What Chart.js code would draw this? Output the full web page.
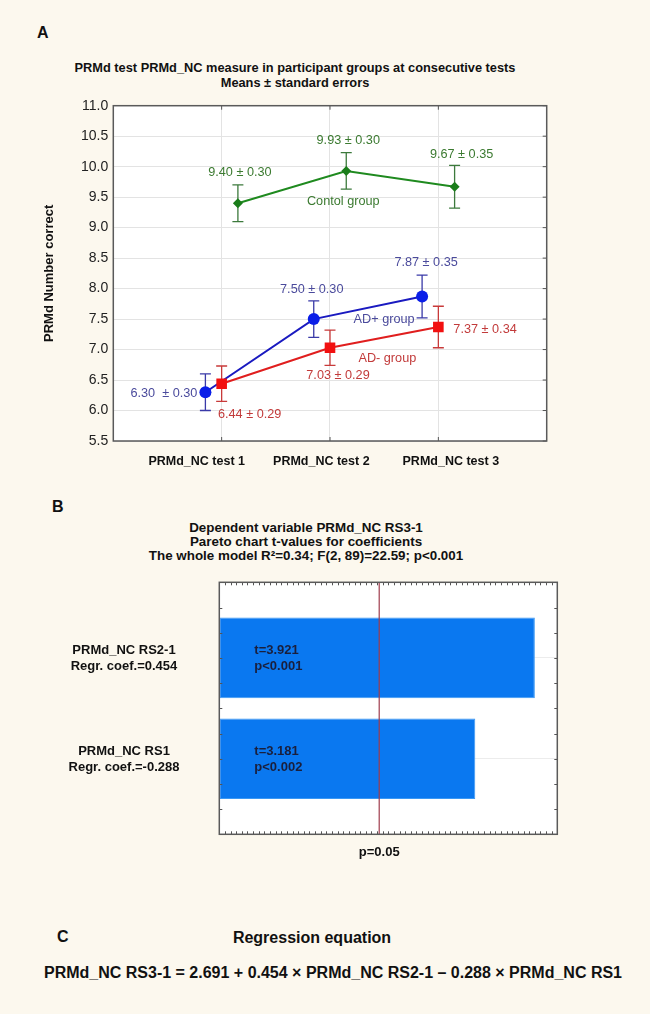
<!DOCTYPE html>
<html>
<head>
<meta charset="utf-8">
<script src="https://cdn.jsdelivr.net/npm/chart.js@4/dist/chart.umd.min.js"></script>
<style>
  html, body { margin: 0; padding: 0; background: #fcf8ee; }
  body { width: 650px; height: 1014px; position: relative; overflow: hidden;
         font-family: "Liberation Sans", Arial, sans-serif; color: #111; }
  .abs { position: absolute; white-space: nowrap; }
  .panel { font-size: 16px; font-weight: bold; line-height: 18px; }
  .title { font-weight: bold; text-align: center; }
  canvas { position: absolute; left: 0; }
</style>
</head>
<body>
  <div class="abs panel" style="left:37px; top:24px;">A</div>
  <div class="abs title" style="left:0; width:590px; top:60px; font-size:12.8px; line-height:15px;">
    PRMd test PRMd_NC measure in participant groups at consecutive tests<br>Means ± standard errors
  </div>
  <canvas id="chartA" width="650" height="480" style="top:0;"></canvas>

  <div class="abs panel" style="left:52px; top:498px;">B</div>
  <div class="abs title" style="left:0; width:612px; top:521px; font-size:13.4px; line-height:14px;">
    Dependent variable PRMd_NC RS3-1<br>Pareto chart t-values for coefficients<br>The whole model R²=0.34; F(2, 89)=22.59; p&lt;0.001
  </div>
  <canvas id="chartB" width="650" height="400" style="top:480px;"></canvas>

  <div class="abs panel" style="left:57px; top:928px;">C</div>
  <div class="abs" style="left:0; width:624px; top:929px; text-align:center; font-size:16px; font-weight:bold; line-height:18px;">Regression equation</div>
  <div class="abs" style="left:0; width:666px; top:964px; text-align:center; font-size:16px; font-weight:bold; line-height:18px;">PRMd_NC RS3-1 = 2.691 + 0.454 × PRMd_NC RS2-1 – 0.288 × PRMd_NC RS1</div>

<script>
// ---- Panel A: group means and standard errors per test ----
const testLabels   = ['PRMd_NC test 1', 'PRMd_NC test 2', 'PRMd_NC test 3'];
const groupNames   = ['Contol group', 'AD+ group', 'AD- group'];
const controlMeans = [9.40, 9.93, 9.67];
const controlSE    = [0.30, 0.30, 0.35];
const adPlusMeans  = [6.30, 7.50, 7.87];
const adPlusSE     = [0.30, 0.30, 0.35];
const adMinusMeans = [6.44, 7.03, 7.37];
const adMinusSE    = [0.29, 0.29, 0.34];
const yTitleA      = 'PRMd Number correct';

// ---- Panel B: Pareto chart of t-values ----
const predictorLabels = [['PRMd_NC RS2-1', 'Regr. coef.=0.454'], ['PRMd_NC RS1', 'Regr. coef.=-0.288']];
const tValues   = [3.921, 3.181];
const pLabels   = ['p<0.001', 'p<0.002'];
const tCritical = 1.987;
const critLabel = 'p=0.05';

Chart.defaults.font.family = '"Liberation Sans", Arial, sans-serif';

// ---------- Panel A ----------
const labelFont = '12.7px "Liberation Sans", Arial, sans-serif';

// offsets: [dx, dy, textAlign, separator] relative to each point
const groupStyles = [
  { shift: 0.15, line: '#1f8a1f', point: '#1a7d1a', err: '#3c7a3c', text: '#3b7a30', style: 'rectRot', radius: 5, order: 2,
    offsets: [[2, -31, 'center'], [2, -30, 'center'], [7, -32, 'center']], nameAt: [1, -3, 31] },
  { shift: -0.15, line: '#1a1ac0', point: '#0a1ee8', err: '#3a3aa8', text: '#4a4a9c', style: 'circle', radius: 6, order: 1,
    offsets: [[-8, 1, 'right', '  ± '], [-2, -30, 'center'], [4, -34, 'center']], nameAt: [2, -38, 23] },
  { shift: 0, line: '#e01e1e', point: '#f21010', err: '#c83a3a', text: '#c23a3a', style: 'rect', radius: 7.5, order: 0,
    offsets: [[28, 31, 'center'], [8, 28, 'center'], [15, 2, 'left']], nameAt: [2, -51, 31] }
];
const groupMeans = [controlMeans, adPlusMeans, adMinusMeans];
const groupSE    = [controlSE, adPlusSE, adMinusSE];

const datasetsA = groupStyles.map((g, gi) => ({
  label: groupNames[gi],
  data: groupMeans[gi].map((m, i) => ({ x: i + 1 + g.shift, y: m })),
  errors: groupSE[gi],
  showLine: true,
  borderColor: g.line,
  borderWidth: 2,
  backgroundColor: g.point,
  pointBackgroundColor: g.point,
  pointBorderColor: g.point,
  pointBorderWidth: 0,
  pointStyle: g.style,
  pointRadius: g.radius,
  order: g.order,
  tension: 0
}));

const errorBars = {
  id: 'errorBars',
  beforeDatasetsDraw(chart) {
    const { ctx } = chart;
    const y = chart.scales.y;
    chart.data.datasets.forEach((ds, di) => {
      const g = groupStyles[di];
      chart.getDatasetMeta(di).data.forEach((pt, i) => {
        const m = ds.data[i].y, e = ds.errors[i];
        const yTop = y.getPixelForValue(m + e), yBot = y.getPixelForValue(m - e);
        ctx.save();
        ctx.strokeStyle = g.err;
        ctx.lineWidth = 1.3;
        ctx.beginPath();
        ctx.moveTo(pt.x, yTop); ctx.lineTo(pt.x, yBot);
        ctx.moveTo(pt.x - 5.5, yTop); ctx.lineTo(pt.x + 5.5, yTop);
        ctx.moveTo(pt.x - 5.5, yBot); ctx.lineTo(pt.x + 5.5, yBot);
        ctx.stroke();
        ctx.restore();
      });
    });
  }
};

const valueLabels = {
  id: 'valueLabels',
  afterDatasetsDraw(chart) {
    const { ctx } = chart;
    ctx.save();
    ctx.font = labelFont;
    ctx.textBaseline = 'middle';
    chart.data.datasets.forEach((ds, di) => {
      const g = groupStyles[di];
      const pts = chart.getDatasetMeta(di).data;
      ctx.fillStyle = g.text;
      pts.forEach((pt, i) => {
        const [dx, dy, align, sep] = g.offsets[i];
        ctx.textAlign = align;
        ctx.fillText(ds.data[i].y.toFixed(2) + (sep || ' ± ') + ds.errors[i].toFixed(2), pt.x + dx, pt.y + dy);
      });
      const [pi, nx, ny] = g.nameAt;
      ctx.textAlign = 'center';
      ctx.fillText(ds.label, pts[pi].x + nx, pts[pi].y + ny);
    });
    ctx.restore();
  }
};

const frameA = {
  id: 'frameA',
  afterDraw(chart) {
    const { ctx, chartArea: a, scales } = chart;
    ctx.save();
    ctx.strokeStyle = '#555';
    ctx.lineWidth = 1;
    ctx.beginPath();
    scales.x.ticks.forEach(t => {
      const px = scales.x.getPixelForValue(t.value);
      ctx.moveTo(px, a.top); ctx.lineTo(px, a.top + 4);
      ctx.moveTo(px, a.bottom); ctx.lineTo(px, a.bottom - 4);
    });
    scales.y.ticks.forEach(t => {
      const py = scales.y.getPixelForValue(t.value);
      ctx.moveTo(a.right, py); ctx.lineTo(a.right - 4, py);
    });
    ctx.stroke();
    ctx.lineWidth = 1.5;
    ctx.strokeStyle = '#5a5a5a';
    ctx.strokeRect(a.left, a.top, a.right - a.left, a.bottom - a.top);
    ctx.restore();
  }
};

const plotBg = {
  id: 'plotBg',
  beforeDraw(chart) {
    const { ctx, chartArea: a } = chart;
    ctx.save();
    ctx.fillStyle = '#ffffff';
    ctx.fillRect(a.left, a.top, a.right - a.left, a.bottom - a.top);
    ctx.restore();
  }
};

// label anchors along the x axis for the test names
const testLabelAnchors = [0.77, 1.92, 3.115];

new Chart(document.getElementById('chartA'), {
  type: 'scatter',
  data: { datasets: datasetsA },
  options: {
    responsive: false,
    animation: false,
    devicePixelRatio: 1,
    layout: { padding: { top: 105.7, right: 103.3, bottom: 0, left: 0 } },
    plugins: { legend: { display: false }, tooltip: { enabled: false } },
    scales: {
      x: {
        type: 'linear', min: 0, max: 4, position: 'bottom',
        afterBuildTicks: s => { s.ticks = testLabels.map((_, i) => ({ value: i + 1 })); },
        grid: { color: '#e3e3e3', drawTicks: false },
        border: { display: false },
        ticks: { display: false },
        afterFit: s => { s.height = 0; }
      },
      xl: {
        type: 'linear', axis: 'x', min: 0, max: 4, position: 'bottom',
        afterBuildTicks: s => { s.ticks = testLabelAnchors.map(v => ({ value: v })); },
        grid: { display: false, drawTicks: false },
        border: { display: false },
        ticks: {
          autoSkip: false, maxRotation: 0, padding: 13.2, color: '#111',
          font: { size: 12.5, weight: 'bold' },
          callback: (v, i) => testLabels[i]
        },
        afterFit: s => { s.height = 39; }
      },
      y: {
        type: 'linear', min: 5.5, max: 11,
        ticks: { stepSize: 0.5, padding: 5, color: '#222', font: { size: 14 }, callback: v => v.toFixed(1) },
        grid: { color: '#e3e3e3', drawTicks: false },
        border: { display: false },
        title: { display: true, text: yTitleA, color: '#111', font: { size: 13, weight: 'bold' }, padding: { top: 42, bottom: 0 } },
        afterFit: s => { s.width = 113.3; }
      }
    }
  },
  plugins: [plotBg, errorBars, valueLabels, frameA]
});

// ---------- Panel B ----------
const barNotes = {
  id: 'barNotes',
  afterDatasetsDraw(chart) {
    const { ctx, chartArea: a, scales } = chart;
    ctx.save();
    // critical t line
    const xc = scales.x.getPixelForValue(tCritical);
    ctx.strokeStyle = '#a03c4c';
    ctx.lineWidth = 1.2;
    ctx.beginPath(); ctx.moveTo(xc, a.top); ctx.lineTo(xc, a.bottom); ctx.stroke();
    ctx.font = 'bold 13px "Liberation Sans", Arial, sans-serif';
    ctx.textBaseline = 'middle';
    tValues.forEach((t, i) => {
      const yc = scales.y.getPixelForValue(i + 1);
      // t and p values inside the bars
      ctx.fillStyle = '#1a1f3c';
      ctx.textAlign = 'left';
      ctx.fillText('t=' + t.toFixed(3), a.left + 35, yc - 7.5);
      ctx.fillText(pLabels[i], a.left + 35, yc + 9);
      // predictor name and coefficient, centred left of the plot
      ctx.fillStyle = '#111';
      ctx.textAlign = 'center';
      ctx.fillText(predictorLabels[i][0], a.left - 95.3, yc - 7);
      ctx.fillText(predictorLabels[i][1], a.left - 95.3, yc + 9);
    });
    ctx.restore();
  }
};

const frameB = {
  id: 'frameB',
  afterDraw(chart) {
    const { ctx, chartArea: a, scales } = chart;
    ctx.save();
    ctx.strokeStyle = '#555';
    ctx.lineWidth = 1;
    ctx.beginPath();
    for (let k = 1; k * 0.07 < 4.2; k++) {
      const px = Math.round(scales.x.getPixelForValue(k * 0.07)) + 0.5;
      ctx.moveTo(px, a.top); ctx.lineTo(px, a.top + 3);
      ctx.moveTo(px, a.bottom); ctx.lineTo(px, a.bottom - 3);
    }
    // minor ticks every quarter step on the predictor axis
    for (let k = 1; k < 10; k++) {
      const py = Math.round(scales.y.getPixelForValue(0.25 * k + 0.25)) + 0.5;
      ctx.moveTo(a.left, py); ctx.lineTo(a.left + 3, py);
      ctx.moveTo(a.right, py); ctx.lineTo(a.right - 3, py);
    }
    ctx.stroke();
    ctx.lineWidth = 1.5;
    ctx.strokeStyle = '#5a5a5a';
    ctx.strokeRect(a.left, a.top, a.right - a.left, a.bottom - a.top);
    ctx.restore();
  }
};

new Chart(document.getElementById('chartB'), {
  type: 'bar',
  data: {
    datasets: [{
      data: tValues.map((t, i) => ({ x: t, y: i + 1 })),
      backgroundColor: '#0a78f0',
      borderColor: '#3a98f4',
      borderWidth: 1,
      borderSkipped: false,
      barPercentage: 0.8,
      categoryPercentage: 1
    }]
  },
  options: {
    indexAxis: 'y',
    responsive: false,
    animation: false,
    devicePixelRatio: 1,
    layout: { padding: { top: 102.3, right: 92.7, bottom: 0, left: 0 } },
    plugins: { legend: { display: false }, tooltip: { enabled: false } },
    scales: {
      x: {
        type: 'linear', min: 0, max: 4.2,
        afterBuildTicks: s => { s.ticks = [{ value: tCritical }]; },
        grid: { display: false, drawTicks: false },
        border: { display: false },
        ticks: { autoSkip: false, maxRotation: 0, padding: 10.6, color: '#111', font: { size: 13, weight: 'bold' }, callback: () => critLabel },
        afterFit: s => { s.height = 45.7; }
      },
      y: {
        type: 'linear', min: 0.25, max: 2.75, reverse: true, offset: false,
        afterBuildTicks: s => { s.ticks = predictorLabels.map((_, i) => ({ value: i + 1 })); },
        grid: { drawTicks: false, offset: false, color: '#ececec' },
        border: { display: false },
        ticks: { display: false },
        afterFit: s => { s.width = 219.3; }
      }
    }
  },
  plugins: [plotBg, barNotes, frameB]
});
</script>
</body>
</html>
